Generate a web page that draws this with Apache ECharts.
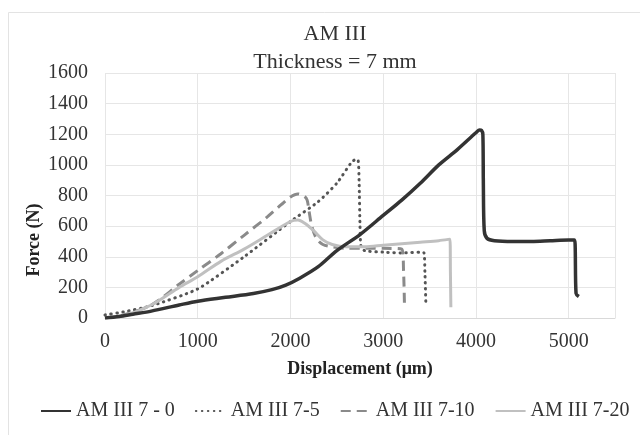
<!DOCTYPE html>
<html>
<head>
<meta charset="utf-8">
<script src="https://cdn.jsdelivr.net/npm/echarts@6/dist/echarts.min.js"></script>
<style>html,body{margin:0;padding:0;background:#fff}#c{width:640px;height:435px}</style>
</head>
<body>
<div id="c"></div>
<script>
// ---- data ----
const seriesNames = ['AM III 7 - 0', 'AM III 7-5', 'AM III 7-10', 'AM III 7-20'];
const xTicks = [0, 1000, 2000, 3000, 4000, 5000];
const yTicks = [0, 200, 400, 600, 800, 1000, 1200, 1400, 1600];

const am0X = [0, 150, 300, 500, 800, 1000, 1300, 1600, 1800, 1950, 2100, 2300, 2500, 2750, 3000, 3200, 3400, 3600, 3800, 4000, 4040, 4060, 4075, 4080, 4090, 4120, 4200, 4400, 4600, 4800, 5000, 5060, 5070, 5080, 5110];
const am0Y = [0, 10, 25, 45, 85, 110, 135, 160, 185, 215, 260, 335, 440, 545, 670, 770, 880, 1000, 1100, 1210, 1228, 1225, 1200, 900, 570, 520, 505, 500, 500, 505, 510, 510, 480, 160, 140];

const am5X = [0, 200, 500, 1000, 1500, 2000, 2300, 2500, 2650, 2700, 2730, 2740, 2750, 2760, 2800, 3000, 3200, 3400, 3440, 3450, 3460];
const am5Y = [20, 40, 80, 190, 400, 630, 760, 880, 1010, 1035, 1030, 900, 600, 470, 440, 430, 425, 430, 425, 300, 100];

const am10X = [0, 200, 500, 800, 1000, 1250, 1500, 1750, 1900, 2000, 2080, 2150, 2180, 2200, 2230, 2280, 2350, 2450, 2600, 2800, 3000, 3200, 3220, 3230];
const am10Y = [0, 20, 85, 220, 310, 420, 540, 660, 740, 790, 810, 795, 770, 700, 600, 520, 480, 465, 455, 455, 455, 450, 300, 70];

const am20X = [0, 200, 500, 800, 1000, 1250, 1500, 1750, 2000, 2080, 2150, 2250, 2350, 2450, 2600, 2800, 3000, 3200, 3400, 3600, 3720, 3725, 3730];
const am20Y = [0, 15, 85, 200, 270, 370, 450, 540, 630, 640, 620, 570, 510, 480, 465, 465, 475, 485, 495, 505, 515, 300, 70];

const pairs = (xs, ys) => xs.map((x, i) => [x, ys[i]]);

const font = 'Liberation Serif, Times New Roman, serif';
const chart = echarts.init(document.getElementById('c'), null, {renderer: 'canvas'});
chart.setOption({
  animation: false,
  backgroundColor: '#fff',
  title: {
    text: 'AM III\nThickness = 7 mm',
    left: 330, top: 15, textAlign: 'center',
    textStyle: {fontFamily: font, fontSize: 22, fontWeight: 'normal', color: '#333', lineHeight: 28}
  },
  graphic: [
    {type: 'rect', shape: {x: 8.5, y: 12.5, width: 700, height: 500}, style: {fill: 'none', stroke: '#e3e3e3', lineWidth: 1}, silent: true},
    {type: 'text', x: 34, y: 240, rotation: Math.PI / 2,
     style: {text: 'Force (N)', fontFamily: font, fontSize: 18, fontWeight: 'bold', fill: '#222', align: 'center', verticalAlign: 'middle'}}
  ],
  grid: {left: 105, right: 25, top: 73, bottom: 117},
  legend: {
    bottom: 9, left: 35,
    itemWidth: 30, itemHeight: 10, itemGap: 20,
    itemStyle: {opacity: 0},
    textStyle: {fontFamily: font, fontSize: 20, color: '#333'},
    data: seriesNames
  },
  xAxis: {
    type: 'value', min: 0, max: 5500, interval: 1000,
    name: 'Displacement (μm)', nameLocation: 'middle', nameGap: 42,
    nameTextStyle: {fontFamily: font, fontSize: 18, fontWeight: 'bold', color: '#222'},
    axisLine: {show: true, lineStyle: {color: '#d9d9d9'}},
    axisTick: {show: false},
    axisLabel: {fontFamily: font, fontSize: 20, color: '#333', margin: 14,
      formatter: v => (xTicks.indexOf(v) >= 0 ? String(v) : '')},
    splitLine: {show: true, lineStyle: {color: '#e6e6e6'}}
  },
  yAxis: {
    type: 'value', min: 0, max: 1600, interval: 200,
    axisLine: {show: false}, axisTick: {show: false},
    axisLabel: {fontFamily: font, fontSize: 20, color: '#333', margin: 17,
      formatter: v => (yTicks.indexOf(v) >= 0 ? String(v) : '')},
    splitLine: {show: true, lineStyle: {color: '#e6e6e6'}}
  },
  series: [
    {name: seriesNames[0], type: 'line', data: pairs(am0X, am0Y), symbol: 'none', smooth: 0.3,
     lineStyle: {color: '#333', width: 3.5}, itemStyle: {color: '#333'}, z: 5},
    {name: seriesNames[1], type: 'line', data: pairs(am5X, am5Y), symbol: 'none', smooth: 0.2,
     lineStyle: {color: '#555', width: 3, type: [0.5, 5.5], cap: 'round'}, itemStyle: {color: '#555'}},
    {name: seriesNames[2], type: 'line', data: pairs(am10X, am10Y), symbol: 'none', smooth: 0.3,
     lineStyle: {color: '#8a8a8a', width: 3, type: [10, 6]}, itemStyle: {color: '#8a8a8a'}},
    {name: seriesNames[3], type: 'line', data: pairs(am20X, am20Y), symbol: 'none', smooth: 0.3,
     lineStyle: {color: '#c0c0c0', width: 3}, itemStyle: {color: '#c0c0c0'}}
  ]
});
</script>
</body>
</html>
